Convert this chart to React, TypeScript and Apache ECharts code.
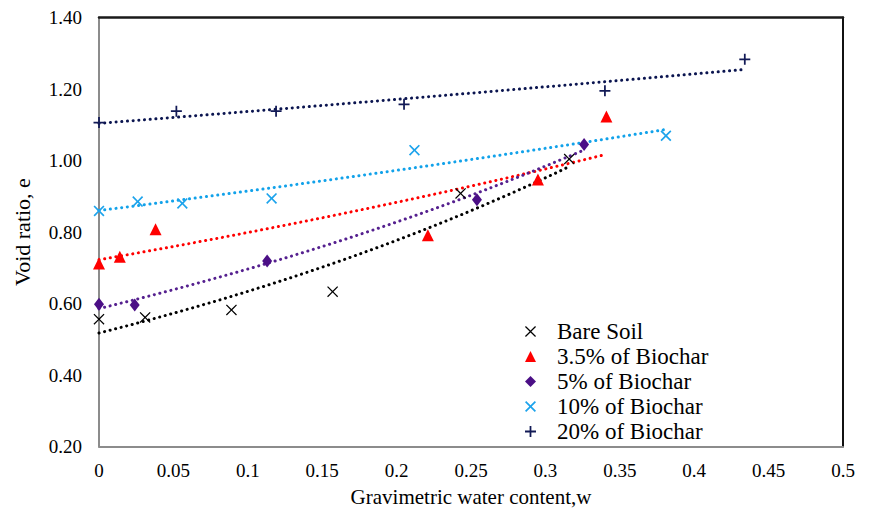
import React, { useEffect, useRef } from "react";
import * as echarts from "echarts";

// Gravimetric water content (w) and void ratio (e) for each mix
const bareSoilW = [0, 0.031, 0.089, 0.157, 0.243, 0.316];
const bareSoilE = [0.556, 0.561, 0.582, 0.633, 0.908, 1.004];
const biochar35W = [0, 0.014, 0.038, 0.221, 0.295, 0.341];
const biochar35E = [0.712, 0.731, 0.808, 0.791, 0.947, 1.123];
const biochar5W = [0, 0.024, 0.113, 0.254, 0.326];
const biochar5E = [0.598, 0.596, 0.719, 0.89, 1.045];
const biochar10W = [0, 0.026, 0.056, 0.116, 0.212, 0.381];
const biochar10E = [0.859, 0.885, 0.88, 0.894, 1.029, 1.069];
const biochar20W = [0, 0.052, 0.119, 0.205, 0.34, 0.434];
const biochar20E = [1.106, 1.138, 1.138, 1.157, 1.195, 1.283];

const seriesNames = [
  "Bare Soil",
  "3.5% of Biochar",
  "5% of Biochar",
  "10% of Biochar",
  "20% of Biochar",
];

const xTicks = [0, 0.05, 0.1, 0.15, 0.2, 0.25, 0.3, 0.35, 0.4, 0.45, 0.5];
const yTicks = [0.2, 0.4, 0.6, 0.8, 1.0, 1.2, 1.4];

const FONT = "'Liberation Serif', 'Times New Roman', serif";

const THIN_CROSS =
  "path://M0,8L8,0L50,42L92,0L100,8L58,50L100,92L92,100L50,58L8,100L0,92L42,50Z";
const BOLD_CROSS =
  "path://M0,11L11,0L50,39L89,0L100,11L61,50L100,89L89,100L50,61L11,100L0,89L39,50Z";
const PLUS = "path://M42,0H58V42H100V58H58V100H42V58H0V42H42Z";

// Exponential trendline e = a * exp(b * w), least squares on ln(e)
function expFit(xs: number[], ys: number[]) {
  const n = xs.length;
  const ls = ys.map((y) => Math.log(y));
  const xm = xs.reduce((s, v) => s + v, 0) / n;
  const lm = ls.reduce((s, v) => s + v, 0) / n;
  let sxy = 0;
  let sxx = 0;
  for (let i = 0; i < n; i++) {
    sxy += (xs[i] - xm) * (ls[i] - lm);
    sxx += (xs[i] - xm) * (xs[i] - xm);
  }
  const b = sxy / sxx;
  const a = Math.exp(lm - b * xm);
  return { a, b };
}

function trendPoints(xs: number[], ys: number[]) {
  const { a, b } = expFit(xs, ys);
  const lo = Math.min(...xs);
  const hi = Math.max(...xs);
  const steps = 60;
  const pts: number[][] = [];
  for (let i = 0; i <= steps; i++) {
    const w = lo + ((hi - lo) * i) / steps;
    pts.push([w, a * Math.exp(b * w)]);
  }
  return pts;
}

const zip = (xs: number[], ys: number[]) => xs.map((x, i) => [x, ys[i]]);

export default function App() {
  const ref = useRef<HTMLDivElement>(null);

  useEffect(() => {
    if (!ref.current) return;
    const chart = echarts.init(ref.current, undefined, { renderer: "svg" });

    const groups = [
      { w: bareSoilW, e: bareSoilE, color: "#000000", trend: "#000000", symbol: THIN_CROSS, size: 11 },
      { w: biochar35W, e: biochar35E, color: "#ff0000", trend: "#ff0000", symbol: "triangle", size: 12 },
      { w: biochar5W, e: biochar5E, color: "#4b0f86", trend: "#55208f", symbol: "diamond", size: [10, 13] },
      { w: biochar10W, e: biochar10E, color: "#1ca3ec", trend: "#12a2ea", symbol: BOLD_CROSS, size: 11 },
      { w: biochar20W, e: biochar20E, color: "#121a56", trend: "#0b1550", symbol: PLUS, size: 11 },
    ];

    const scatterSeries = groups.map((g, i) => ({
      name: seriesNames[i],
      type: "scatter",
      data: zip(g.w, g.e),
      symbol: g.symbol,
      symbolSize: g.size,
      itemStyle: { color: g.color, opacity: 1 },
      z: 4,
    }));

    const trendSeries = groups.map((g, i) => ({
      name: seriesNames[i] + " trend",
      type: "line",
      data: trendPoints(g.w, g.e),
      showSymbol: false,
      symbol: "none",
      silent: true,
      lineStyle: { color: g.trend, width: 3, type: [0.1, 5.6], cap: "round" },
      z: 2,
    }));

    const xMin = xTicks[0];
    const xMax = xTicks[xTicks.length - 1];
    const yMin = yTicks[0];
    const yMax = yTicks[yTicks.length - 1];
    const xStep = xTicks[1] - xTicks[0];
    const yStep = yTicks[1] - yTicks[0];

    chart.setOption({
      animation: false,
      backgroundColor: "#ffffff",
      textStyle: { fontFamily: FONT },
      grid: { left: 99, right: 26, top: 17.5, bottom: 68.5, containLabel: false },
      legend: {
        data: seriesNames,
        orient: "vertical",
        left: 520,
        top: 315,
        itemWidth: 11,
        itemHeight: 11,
        itemGap: 2,
        selectedMode: false,
        formatter: (name: string) => `{t|${name}}`,
        textStyle: {
          fontFamily: FONT,
          fontSize: 23,
          color: "#000",
          rich: {
            t: { fontFamily: FONT, fontSize: 23, color: "#000", padding: [0, 0, 0, 16] },
          },
        },
      },
      xAxis: [
        {
          type: "value",
          min: xMin,
          max: xMax,
          interval: xStep,
          position: "bottom",
          axisLine: { show: true, onZero: false, lineStyle: { color: "#8c8c8c", width: 2 } },
          axisTick: { show: false },
          splitLine: { show: false },
          axisLabel: {
            fontFamily: FONT,
            fontSize: 19,
            color: "#000",
            margin: 14,
            formatter: (v: number) => String(parseFloat(v.toFixed(2))),
          },
          name: "Gravimetric water content,w",
          nameLocation: "middle",
          nameGap: 40,
          nameTextStyle: { fontFamily: FONT, fontSize: 21, color: "#000" },
        },
        {
          type: "value",
          min: xMin,
          max: xMax,
          interval: xStep,
          position: "top",
          axisLine: { show: true, onZero: false, lineStyle: { color: "#1a1a1a", width: 2.5 } },
          axisTick: { show: false },
          axisLabel: { show: false },
          splitLine: { show: false },
        },
      ],
      yAxis: [
        {
          type: "value",
          min: yMin,
          max: yMax,
          interval: yStep,
          position: "left",
          axisLine: { show: true, onZero: false, lineStyle: { color: "#8c8c8c", width: 2 } },
          axisTick: { show: false },
          splitLine: { show: false },
          axisLabel: {
            fontFamily: FONT,
            fontSize: 19,
            color: "#000",
            margin: 17,
            formatter: (v: number) => v.toFixed(2),
          },
          name: "Void ratio, e",
          nameLocation: "middle",
          nameGap: 66,
          nameTextStyle: { fontFamily: FONT, fontSize: 22, color: "#000" },
        },
        {
          type: "value",
          min: yMin,
          max: yMax,
          interval: yStep,
          position: "right",
          axisLine: { show: true, onZero: false, lineStyle: { color: "#111111", width: 2 } },
          axisTick: { show: false },
          axisLabel: { show: false },
          splitLine: { show: false },
        },
      ],
      series: [...trendSeries, ...scatterSeries],
    });

    return () => chart.dispose();
  }, []);

  return (
    <div
      ref={ref}
      style={{ position: "fixed", left: 0, top: 0, width: 869, height: 515, background: "#fff" }}
    />
  );
}
